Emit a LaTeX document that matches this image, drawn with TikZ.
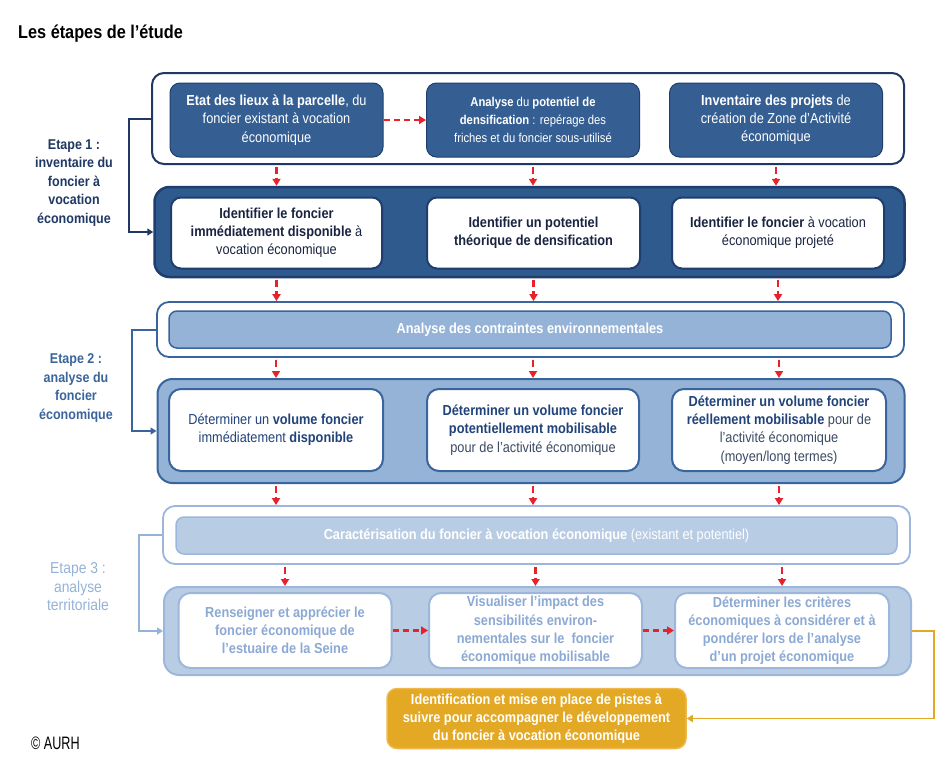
\documentclass[tikz,border=0pt]{standalone}
\usepackage{fontspec}
\setmainfont{Liberation Sans}[FakeStretch=0.88]
\newfontfamily\titlefont{Liberation Sans}[FakeStretch=0.88]
\newfontfamily\creditfont{Liberation Sans}[FakeStretch=0.70]
\usetikzlibrary{arrows.meta}
\definecolor{navyA}{HTML}{1F3864}
\definecolor{navyFill}{HTML}{355F93}
\definecolor{navyFillB}{HTML}{2F5A8E}
\definecolor{navyLine}{HTML}{1F3E6D}
\definecolor{darkText}{HTML}{1A2440}
\definecolor{midLine}{HTML}{3A659C}
\definecolor{midFill}{HTML}{95B3D7}
\definecolor{midText}{HTML}{21437A}
\definecolor{midPlain}{HTML}{3B4A63}
\definecolor{lightLine}{HTML}{9DB7DC}
\definecolor{lightFill}{HTML}{B8CCE4}
\definecolor{lightText}{HTML}{8CA9D4}
\definecolor{orangeFill}{HTML}{E3A824}
\definecolor{orangeLine}{HTML}{F0B84A}
\definecolor{arrowRed}{HTML}{E8222B}
\begin{document}
\begin{tikzpicture}[x=1pt,y=-1pt,
  dims/.style 2 args={minimum width=#1pt,minimum height=#2pt},
  basebox/.style={inner sep=0pt,align=center,font=\fontsize{14.5}{18.2}\selectfont},
  s1outer/.style={basebox,draw=navyA,line width=2pt,fill=white,rounded corners=12pt},
  s1inner/.style={basebox,draw=navyLine,line width=1pt,fill=navyFill,rounded corners=10pt,text=white},
  s1outerB/.style={basebox,draw=navyLine,line width=2.5pt,fill=navyFillB,rounded corners=15pt},
  s1innerB/.style={basebox,draw=navyLine,line width=2pt,fill=white,rounded corners=10pt,text=darkText},
  s2outer/.style={basebox,draw=midLine,line width=1.8pt,fill=white,rounded corners=12pt},
  s2bar/.style={basebox,draw=midLine,line width=1.5pt,fill=midFill,rounded corners=8pt,text=white},
  s2outerB/.style={basebox,draw=midLine,line width=2pt,fill=midFill,rounded corners=15pt},
  s2inner/.style={basebox,draw=midLine,line width=2pt,fill=white,rounded corners=12pt,text=midPlain},
  s3outer/.style={basebox,draw=lightLine,line width=1.8pt,fill=white,rounded corners=12pt},
  s3bar/.style={basebox,draw=lightLine,line width=1.5pt,fill=lightFill,rounded corners=8pt,text=white},
  s3outerB/.style={basebox,draw=lightLine,line width=2pt,fill=lightFill,rounded corners=15pt},
  s3inner/.style={basebox,draw=lightLine,line width=2pt,fill=white,rounded corners=12pt,text=lightText,font=\fontsize{14.5}{18.2}\selectfont\bfseries},
  orangebox/.style={basebox,draw=orangeLine,line width=1.5pt,fill=orangeFill,rounded corners=10pt,text=white,font=\fontsize{14.5}{18.2}\selectfont\bfseries},
  stagelabel/.style={align=center,inner sep=0pt,font=\fontsize{14.2}{18.5}\selectfont},
  redarr/.style={draw=arrowRed,line width=2.2pt,dash pattern=on 7pt off 4pt,-{Triangle[length=7pt,width=8pt]}},
  redarrH/.style={draw=arrowRed,line width=2.2pt,dash pattern=on 6pt off 4pt,-{Triangle[length=7pt,width=8pt]}},
  bracket/.style={line width=2pt,-{Triangle[length=6pt,width=7pt]}},
]
\useasboundingbox[fill=white] (0,0) rectangle (950,782);

% title and credit
\node[anchor=base west,inner sep=0pt,font=\titlefont\fontsize{18.5}{20}\selectfont\bfseries] (title) at (18,38) {Les étapes de l’étude};
\node[anchor=base west,inner sep=0pt,font=\creditfont\fontsize{18}{20}\selectfont] (credit) at (31,749) {© AURH};

% ---------- Stage 1 ----------
\node[s1outer,dims={752}{91}] (s1o) at (528,118.5) {};
\node[s1inner,dims={213}{74}] (A) at (276.5,120) {\textbf{Etat des lieux à la parcelle}, du\\foncier existant à vocation\\économique};
\node[s1inner,dims={213}{74},font=\fontsize{12.8}{18.2}\selectfont] (B) at (533,120) {\textbf{Analyse} du \textbf{potentiel de}\\\textbf{densification} : repérage des\\friches et du foncier sous-utilisé};
\node[s1inner,dims={213}{74}] (C) at (776,120) {\textbf{Inventaire des projets} de\\création de Zone d’Activité\\économique};

\node[s1outerB,dims={750}{90}] (s1b) at (529.5,232) {};
\node[s1innerB,dims={211}{71}] (D) at (276.5,233) {\textbf{Identifier le foncier}\\\textbf{immédiatement disponible} à\\vocation économique};
\node[s1innerB,dims={213}{71}] (E) at (533.5,233) {\textbf{Identifier un potentiel}\\\textbf{théorique de densification}};
\node[s1innerB,dims={212}{71}] (F) at (778,233) {\textbf{Identifier le foncier} à vocation\\économique projeté};

\node[stagelabel,text=navyA,font=\fontsize{14.2}{18.5}\selectfont\bfseries] (L1) at (74,183) {Etape 1 :\\inventaire du\\foncier à\\vocation\\économique};

% ---------- Stage 2 ----------
\node[s2outer,dims={747}{55}] (s2o) at (530.5,329.5) {};
\node[s2bar,dims={722}{37},font=\fontsize{14.5}{18.2}\selectfont\bfseries] (bar2) at (530,329.5) {Analyse des contraintes environnementales};

\node[s2outerB,dims={747}{104}] (s2b) at (531,431) {};
\node[s2inner,dims={214}{82}] (G) at (276,430) {\textcolor{midText}{Déterminer un \textbf{volume foncier}}\\\textcolor{midText}{immédiatement \textbf{disponible}}};
\node[s2inner,dims={212}{82}] (H) at (533,430) {\textcolor{midText}{\textbf{Déterminer un volume foncier}}\\\textcolor{midText}{\textbf{potentiellement mobilisable}}\\pour de l’activité économique};
\node[s2inner,dims={214}{82}] (I) at (779,430) {\textcolor{midText}{\textbf{Déterminer un volume foncier}}\\\textcolor{midText}{\textbf{réellement mobilisable}} pour de\\l’activité économique\\(moyen/long termes)};

\node[stagelabel,text=midLine,font=\fontsize{14.2}{18.5}\selectfont\bfseries] (L2) at (76,388) {Etape 2 :\\analyse du\\foncier\\économique};

% ---------- Stage 3 ----------
\node[s3outer,dims={747}{58}] (s3o) at (536.5,535) {};
\node[s3bar,dims={721}{37}] (bar3) at (536.5,535.5) {\textbf{Caractérisation du foncier à vocation économique} (existant et potentiel)};

\node[s3outerB,dims={747}{88}] (s3b) at (537.5,631) {};
\node[s3inner,dims={213}{75}] (J) at (285,630.5) {Renseigner et apprécier le\\foncier économique de\\l’estuaire de la Seine};
\node[s3inner,dims={213}{75}] (K) at (535.5,630.5) {Visualiser l’impact des\\sensibilités environ-\\nementales sur le\ \ foncier\\économique mobilisable};
\node[s3inner,dims={214}{75}] (L) at (782,630.5) {Déterminer les critères\\économiques à considérer et à\\pondérer lors de l’analyse\\d’un projet économique};

\node[stagelabel,text=midFill,font=\fontsize{15.8}{18.5}\selectfont] (L3) at (78,587) {Etape 3 :\\analyse\\territoriale};

\node[orangebox,dims={299}{60}] (O) at (536.5,718.5) {Identification et mise en place de pistes à\\suivre pour accompagner le développement\\du foncier à vocation économique};

% ---------- brackets ----------
\draw[bracket,draw=navyA] (s1o.west) -- ++(-22,0) |- (s1b.west);
\draw[bracket,draw=midLine] (s2o.west) -- ++(-24,0) |- (s2b.west);
\draw[bracket,draw=midFill,line width=2.5pt] (s3o.west) -- ++(-23,0) |- (s3b.west);
\draw[bracket,draw=orangeFill,line width=1.6pt] (s3b.east) -- ++(22,0) |- (O.east);

% ---------- red arrows ----------
\draw[redarrH] (A.east) -- (B.west);
\draw[redarrH] (J.east) -- (K.west);
\draw[redarrH] (K.east) -- (L.west);

\foreach \n in {A,B,C}{
  \draw[redarr,shorten <=2pt] (\n.south |- s1o.south) -- (\n.south |- s1b.north);
}
\foreach \n in {D,E,F}{
  \draw[redarr,shorten <=2pt] (\n.south |- s1b.south) -- (\n.south |- s2o.north);
}
\foreach \n in {G,H,I}{
  \draw[redarr,shorten <=2pt] (\n.north |- s2o.south) -- (\n.north |- s2b.north);
  \draw[redarr,shorten <=2pt] (\n.south |- s2b.south) -- (\n.south |- s3o.north);
}
\foreach \n in {J,K,L}{
  \draw[redarr,shorten <=2pt] (\n.north |- s3o.south) -- (\n.north |- s3b.north);
}
\end{tikzpicture}
\end{document}
